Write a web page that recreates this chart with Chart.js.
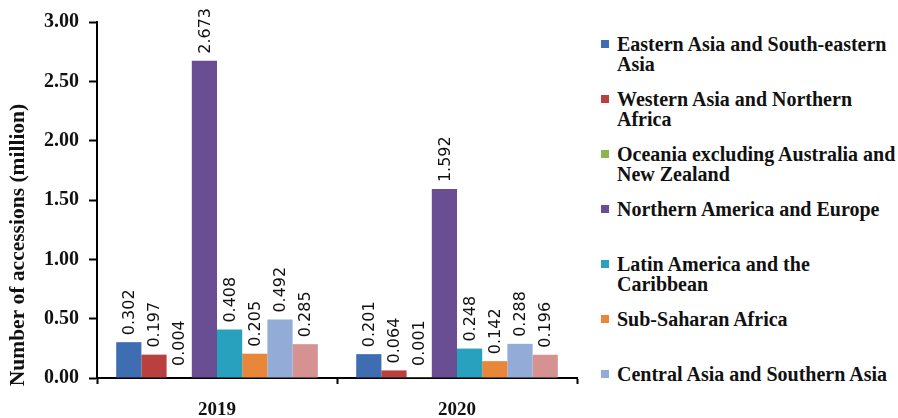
<!DOCTYPE html>
<html>
<head>
<meta charset="utf-8">
<script src="https://cdn.jsdelivr.net/npm/chart.js@4.4.1/dist/chart.umd.min.js"></script>
<style>
  html, body { margin: 0; padding: 0; background: #fff; width: 898px; height: 418px; overflow: hidden; }
  #wrap { position: absolute; left: 0; top: 0; width: 590px; height: 418px; }
  #legend { position: absolute; left: 601px; top: 0; }
  .item { position: absolute; left: 0; font: bold 20px "Liberation Serif", "Times New Roman", serif; color: #111; line-height: 20px; white-space: nowrap; }
  .item .box { position: absolute; left: 0; top: 6px; width: 8px; height: 8px; }
  .item .txt { margin-left: 16px; }
</style>
</head>
<body>
<div id="wrap"><canvas id="chart"></canvas></div>
<div id="legend"></div>
<script>
// categories and series
const years = ["2019", "2020"];
const regionLabels = [
  ["Eastern Asia and South-eastern", "Asia"],
  ["Western Asia and Northern", "Africa"],
  ["Oceania excluding Australia and", "New Zealand"],
  ["Northern America and Europe"],
  ["Latin America and the", "Caribbean"],
  ["Sub-Saharan Africa"],
  ["Central Asia and Southern Asia"],
  ["Australia and New Zealand"]
];
const regionColors = ["#3e6db2", "#b9403f", "#8fb350", "#6a4e94", "#27a1bd", "#e8873a", "#93acd7", "#d69291"];
const eastAsia = [0.302, 0.201];
const westAsia = [0.197, 0.064];
const oceania = [0.004, 0.001];
const northAmEurope = [2.673, 1.592];
const latinAm = [0.408, 0.248];
const subSahara = [0.205, 0.142];
const centralAsia = [0.492, 0.288];
const ausNz = [0.285, 0.196];
const yTicks = [0, 0.5, 1, 1.5, 2, 2.5, 3];

const seriesValues = [eastAsia, westAsia, oceania, northAmEurope, latinAm, subSahara, centralAsia, ausNz];

// rotated value labels above each bar
const valueLabels = {
  id: "valueLabels",
  afterDatasetsDraw(chart) {
    const ctx = chart.ctx;
    const base = chart.scales.y.getPixelForValue(0);
    ctx.save();
    ctx.font = "16px 'DejaVu Sans', sans-serif";
    ctx.fillStyle = "#111";
    ctx.textAlign = "left";
    ctx.textBaseline = "middle";
    chart.data.datasets.forEach((ds, i) => {
      chart.getDatasetMeta(i).data.forEach((bar, j) => {
        const top = Math.min(bar.y, base - 5) - 7;
        ctx.save();
        ctx.translate(bar.x, top);
        ctx.rotate(-Math.PI / 2);
        ctx.fillText(ds.data[j].toFixed(3), 0, 1);
        ctx.restore();
      });
    });
    ctx.restore();
  }
};

// y axis title, placed like the original (not centred on the axis)
const yTitle = {
  id: "yTitle",
  afterDraw(chart) {
    const ctx = chart.ctx;
    ctx.save();
    ctx.font = "bold 21.5px 'Liberation Serif', serif";
    ctx.fillStyle = "#111";
    ctx.textAlign = "center";
    ctx.textBaseline = "middle";
    ctx.translate(18, 245);
    ctx.rotate(-Math.PI / 2);
    ctx.fillText("Number of accessions (million)", 0, 0);
    ctx.restore();
  }
};

new Chart(document.getElementById("chart"), {
  type: "bar",
  data: {
    labels: years,
    datasets: seriesValues.map((vals, i) => ({
      label: regionLabels[i].join(" "),
      data: vals,
      backgroundColor: regionColors[i],
      borderWidth: 0,
      categoryPercentage: 0.84,
      barPercentage: 1
    }))
  },
  options: {
    responsive: true,
    maintainAspectRatio: false,
    animation: false,
    layout: { padding: { top: 22, right: 13, left: 0, bottom: 0 } },
    plugins: { legend: { display: false }, tooltip: { enabled: false } },
    scales: {
      x: {
        offset: true,
        afterFit: s => { s.height = 40; },
        border: { color: "#000", width: 2 },
        grid: { drawOnChartArea: false, drawTicks: true, tickLength: 6, tickColor: "#000", tickWidth: 2, offset: true },
        ticks: { color: "#111", font: { family: "Liberation Serif", size: 19, weight: "bold" }, padding: 15 }
      },
      y: {
        min: 0,
        max: 3,
        afterFit: s => { s.width = 97; },
        afterBuildTicks: s => { s.ticks = yTicks.map(v => ({ value: v })); },
        border: { color: "#000", width: 2 },
        grid: { drawOnChartArea: false, drawTicks: true, tickLength: 8, tickColor: "#000", tickWidth: 2 },
        ticks: {
          color: "#111",
          font: { family: "Liberation Serif", size: 20, weight: "bold" },
          padding: 10,
          callback: v => Number(v).toFixed(2)
        }
      }
    }
  },
  plugins: [valueLabels, yTitle]
});

// legend as html text, one slot per series (the last one falls below the frame as in the original)
const legend = document.getElementById("legend");
regionLabels.forEach((lines, i) => {
  const item = document.createElement("div");
  item.className = "item";
  item.style.top = (34 + i * 55) + "px";
  const box = document.createElement("span");
  box.className = "box";
  box.style.background = regionColors[i];
  const txt = document.createElement("div");
  txt.className = "txt";
  txt.innerHTML = lines.join("<br>");
  item.appendChild(box);
  item.appendChild(txt);
  legend.appendChild(item);
});
</script>
</body>
</html>
